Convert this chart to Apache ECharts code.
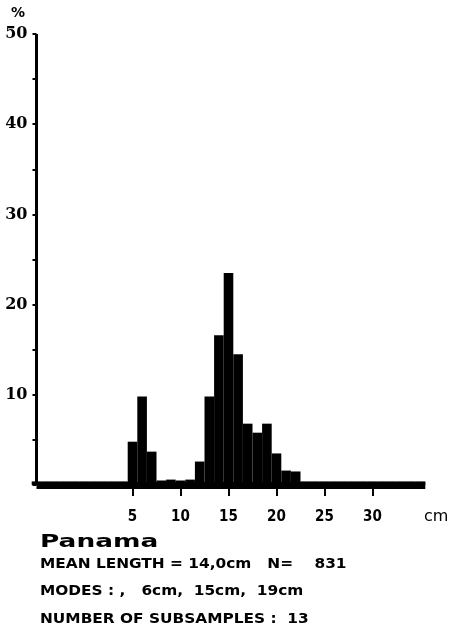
<!DOCTYPE html>
<html>
<head>
<meta charset="utf-8">
<script src="https://cdn.jsdelivr.net/npm/echarts@6/dist/echarts.min.js"></script>
<style>
  html, body { margin: 0; padding: 0; background: #fff; }
  #chart { width: 450px; height: 632px; }
</style>
</head>
<body>
<div id="chart"></div>
<script>
// Length classes (cm) and percentage frequencies
const lengths = [-5,-4,-3,-2,-1,0,1,2,3,4,5,6,7,8,9,10,11,12,13,14,15,16,17,18,19,20,21,22,23,24,25,26,27,28,29,30,31,32,33,34,35];
const percents = [0.4,0.4,0.4,0.4,0.4,0.4,0.4,0.4,0.4,0.4,4.8,9.8,3.7,0.5,0.6,0.5,0.6,2.6,9.8,16.6,23.5,14.5,6.8,5.8,6.8,3.5,1.6,1.5,0.4,0.4,0.4,0.4,0.4,0.4,0.4,0.4,0.4,0.4,0.4,0.4,0.4];
const xTickValues = [5,10,15,20,25,30];
const yTickLabels = [10,20,30,40,50];

const titleText = 'Panama';
const infoLines = [
  'MEAN LENGTH = 14,0cm   N=    831',
  'MODES : ,   6cm,  15cm,  19cm',
  'NUMBER OF SUBSAMPLES :  13'
];

const chart = echarts.init(document.getElementById('chart'), null, { renderer: 'canvas' });

const infoGraphics = infoLines.map((t, i) => ({
  type: 'text',
  left: 40,
  top: 557 + i * 27.5,
  scaleX: 1.22,
  style: {
    text: t,
    font: 'bold 14px "DejaVu Sans Condensed", "DejaVu Sans", sans-serif',
    fill: '#000'
  }
}));

chart.setOption({
  animation: false,
  backgroundColor: '#fff',
  grid: { left: 36.5, right: 24.7, top: 34, bottom: 147, containLabel: false },
  xAxis: {
    type: 'value',
    min: -5,
    max: 35.5,
    interval: 5,
    splitLine: { show: false },
    axisLine: { show: true, onZero: false, lineStyle: { color: '#000', width: 7, cap: 'butt' } },
    axisTick: { show: true, customValues: xTickValues, length: 11, lineStyle: { color: '#000', width: 2 } },
    axisLabel: {
      customValues: xTickValues,
      margin: 25,
      color: '#000',
      fontFamily: '"Liberation Sans Narrow", "DejaVu Sans Condensed", sans-serif',
      fontWeight: 'bold',
      fontSize: 15
    }
  },
  yAxis: {
    type: 'value',
    min: 0,
    max: 50,
    interval: 5,
    splitLine: { show: false },
    axisLine: { show: true, onZero: false, lineStyle: { color: '#000', width: 3, cap: 'butt' } },
    axisTick: { show: true, length: 4, lineStyle: { color: '#000', width: 2 } },
    axisLabel: {
      margin: 9,
      color: '#000',
      fontFamily: '"DejaVu Serif", serif',
      fontWeight: 'bold',
      fontSize: 16,
      formatter: v => (yTickLabels.indexOf(v) >= 0 ? String(v) : '')
    }
  },
  series: [{
    type: 'bar',
    data: lengths.map((x, i) => [x, percents[i]]),
    barWidth: 9.6,
    clip: false,
    itemStyle: { color: '#000' },
    z: 3
  }],
  graphic: [
    {
      type: 'text', left: 11, top: 6,
      style: { text: '%', font: 'bold 14px "DejaVu Sans", sans-serif', fill: '#000' }
    },
    {
      type: 'text', left: 424, top: 509,
      style: { text: 'cm', font: '16px "DejaVu Sans", sans-serif', fill: '#000' }
    },
    {
      type: 'text', left: 40, top: 534, scaleX: 1.55,
      style: { text: titleText, font: 'bold 17px "DejaVu Sans", sans-serif', fill: '#000' }
    }
  ].concat(infoGraphics)
});
</script>
</body>
</html>
